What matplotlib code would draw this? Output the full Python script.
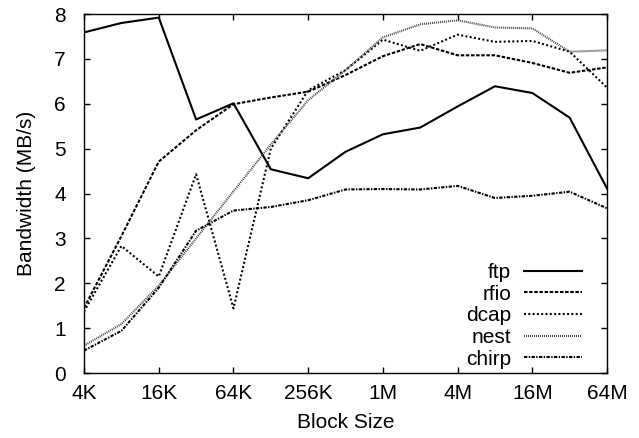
import matplotlib
matplotlib.use("Agg")
import matplotlib.pyplot as plt

plt.rcParams['font.family'] = ['Liberation Sans', 'DejaVu Sans']
plt.rcParams['lines.scale_dashes'] = False

block_kb = [4, 8, 16, 32, 64, 128, 256, 512, 1024, 2048, 4096, 8192, 16384, 32768, 65536]
tick_kb = [4, 16, 64, 256, 1024, 4096, 16384, 65536]
tick_labels = ["4K", "16K", "64K", "256K", "1M", "4M", "16M", "64M"]

ftp = [7.59, 7.80, 7.92, 5.65, 6.01, 4.54, 4.34, 4.93, 5.32, 5.47, 5.94, 6.39, 6.24, 5.69, 4.11]
rfio = [1.45, 3.05, 4.71, 5.41, 5.99, 6.14, 6.27, 6.64, 7.06, 7.33, 7.08, 7.08, 6.91, 6.69, 6.81]
dcap = [1.37, 2.83, 2.15, 4.43, 1.44, 5.00, 6.30, 6.75, 7.43, 7.18, 7.54, 7.38, 7.40, 7.16, 6.36]
nest = [0.61, 1.09, 1.95, 3.00, 4.05, 5.09, 6.08, 6.75, 7.48, 7.77, 7.86, 7.70, 7.68, 7.16, 7.19]
chirp = [0.50, 0.94, 1.90, 3.17, 3.62, 3.70, 3.85, 4.09, 4.10, 4.09, 4.17, 3.90, 3.95, 4.04, 3.67]

fig = plt.figure(figsize=(6.39, 4.38), dpi=100)
ax = fig.add_axes([0.1315, 0.1484, 0.8185, 0.8196])

lw = 1.5
ax.plot(block_kb, ftp, color='black', lw=lw, linestyle='-', label='ftp')
ax.plot(block_kb, rfio, color='black', lw=lw, linestyle=(0, (2.5, 1.2)), label='rfio')
ax.plot(block_kb, dcap, color='black', lw=lw, linestyle=(0, (1.4, 1.7)), label='dcap')
ax.plot(block_kb, nest, color='#444444', lw=lw, linestyle=(0, (0.72, 0.72)), label='nest')
ax.plot(block_kb, chirp, color='black', lw=lw, linestyle=(0, (2.4, 1.0, 1.0, 1.0)), label='chirp')

ax.set_xscale('log', base=2)
ax.set_xlim(4, 65536)
ax.set_ylim(0, 8)
ax.set_xticks(tick_kb)
ax.set_xticklabels(tick_labels)
ax.xaxis.set_minor_locator(matplotlib.ticker.NullLocator())
ax.set_yticks(range(0, 9))

ax.tick_params(axis='both', which='major', direction='in', length=4, width=1,
               top=True, right=True, labelsize=15)
ax.tick_params(axis='x', pad=8)
ax.tick_params(axis='y', pad=13)
for s in ax.spines.values():
    s.set_linewidth(1)

ax.set_xlabel('Block Size', fontsize=15, labelpad=7)
ax.set_ylabel('Bandwidth (MB/s)', fontsize=15, labelpad=13)

leg = ax.legend(loc='lower right', bbox_to_anchor=(0.952, 0.012), frameon=False,
                markerfirst=False, fontsize=15, handlelength=2.8, handletextpad=0.6,
                labelspacing=0.13, borderpad=0, borderaxespad=0)

fig.savefig('out.png', dpi=100)
